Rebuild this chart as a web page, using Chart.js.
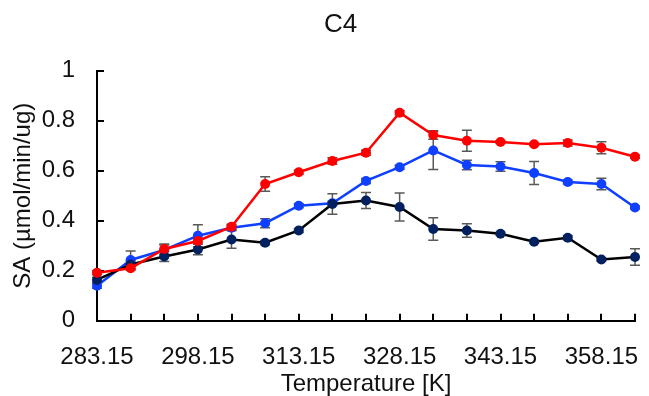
<!DOCTYPE html>
<html>
<head>
<meta charset="utf-8">
<script src="https://cdn.jsdelivr.net/npm/chart.js@4/dist/chart.umd.min.js"></script>
<style>
  html, body { margin: 0; padding: 0; background: #fff; }
</style>
</head>
<body>
<canvas id="c4Chart" width="649" height="396"></canvas>
<script>
const temperatures = ['283.15', '288.15', '293.15', '298.15', '303.15', '308.15', '313.15', '318.15', '323.15',
  '328.15', '333.15', '338.15', '343.15', '348.15', '353.15', '358.15', '363.15'];

const redValues = [0.192, 0.21, 0.287, 0.319, 0.376, 0.547, 0.594, 0.639, 0.672, 0.832, 0.743, 0.72, 0.715, 0.706, 0.711, 0.692, 0.656];
const redErrors = [0.008, 0.008, 0.02, 0.008, 0.01, 0.029, 0.008, 0.013, 0.01, 0.008, 0.017, 0.042, 0.005, 0.005, 0.012, 0.024, 0.006];

const blueValues = [0.14, 0.243, 0.283, 0.34, 0.372, 0.39, 0.46, 0.47, 0.559, 0.614, 0.681, 0.623, 0.617, 0.591, 0.555, 0.547, 0.453];
const blueErrors = [0.01, 0.036, 0.02, 0.044, 0.01, 0.018, 0.008, 0.008, 0.01, 0.008, 0.076, 0.019, 0.019, 0.046, 0.008, 0.023, 0.006];

const blackValues = [0.163, 0.225, 0.257, 0.285, 0.325, 0.312, 0.361, 0.467, 0.481, 0.455, 0.367, 0.361, 0.348, 0.316, 0.332, 0.245, 0.255];
const blackErrors = [0.01, 0.015, 0.02, 0.021, 0.035, 0.008, 0.008, 0.041, 0.032, 0.056, 0.045, 0.027, 0.006, 0.006, 0.008, 0.006, 0.033];

const FONT = '"Liberation Sans", Arial, sans-serif';

// error bars, drawn under the markers
const errorBars = {
  id: 'errorBars',
  beforeDatasetsDraw(chart) {
    const ctx = chart.ctx;
    const y = chart.scales.y;
    ctx.save();
    ctx.strokeStyle = '#595959';
    ctx.lineWidth = 1.5;
    chart.data.datasets.forEach((ds, i) => {
      const meta = chart.getDatasetMeta(i);
      meta.data.forEach((pt, j) => {
        const err = ds.errors[j];
        const top = y.getPixelForValue(ds.data[j] + err);
        const bot = y.getPixelForValue(ds.data[j] - err);
        ctx.beginPath();
        ctx.moveTo(pt.x, top); ctx.lineTo(pt.x, bot);
        ctx.moveTo(pt.x - 5, top); ctx.lineTo(pt.x + 5, top);
        ctx.moveTo(pt.x - 5, bot); ctx.lineTo(pt.x + 5, bot);
        ctx.stroke();
      });
    });
    ctx.restore();
  }
};

// tick marks pointing into the plot
const innerTicks = {
  id: 'innerTicks',
  beforeDatasetsDraw(chart) {
    const ctx = chart.ctx;
    const {x, y} = chart.scales;
    const area = chart.chartArea;
    ctx.save();
    ctx.strokeStyle = '#000';
    ctx.lineWidth = 2;
    ctx.beginPath();
    x.ticks.forEach((t, i) => {
      const px = Math.round(x.getPixelForTick(i));
      ctx.moveTo(px, area.bottom); ctx.lineTo(px, area.bottom - 7);
    });
    y.ticks.forEach((t, i) => {
      const py = Math.round(y.getPixelForTick(i));
      ctx.moveTo(area.left, py); ctx.lineTo(area.left + 7, py);
    });
    ctx.stroke();
    ctx.restore();
  }
};

function series(data, errors, lineColor, markerColor) {
  return {
    data: data,
    errors: errors,
    borderColor: lineColor,
    backgroundColor: markerColor,
    pointBackgroundColor: markerColor,
    pointBorderColor: markerColor,
    borderWidth: 2.5,
    pointRadius: 5,
    pointBorderWidth: 0,
    tension: 0
  };
}

new Chart(document.getElementById('c4Chart').getContext('2d'), {
  type: 'line',
  data: {
    labels: temperatures,
    datasets: [
      series(redValues, redErrors, '#FF0000', '#FF0000'),
      series(blackValues, blackErrors, '#000000', '#002060'),
      series(blueValues, blueErrors, '#0F3FFF', '#0F3FFF')
    ]
  },
  plugins: [errorBars, innerTicks],
  options: {
    responsive: false,
    animation: false,
    layout: { padding: { left: 37, right: 5, top: 0, bottom: 0 } },
    plugins: {
      legend: { display: false },
      tooltip: { enabled: false },
      title: {
        display: true,
        text: 'C4',
        color: '#111',
        font: { family: FONT, size: 26, weight: 'normal' },
        padding: { top: 9.4, bottom: 30.1 }
      }
    },
    scales: {
      x: {
        type: 'category',
        offset: false,
        grid: { display: false },
        border: { color: '#000', width: 2 },
        ticks: {
          autoSkip: false,
          maxRotation: 0,
          minRotation: 0,
          padding: 14,
          color: '#111',
          font: { family: FONT, size: 24 },
          callback: function (value, index) {
            return index % 3 === 0 ? this.getLabelForValue(value) : '';
          }
        },
        title: {
          display: true,
          text: 'Temperature [K]',
          color: '#111',
          font: { family: FONT, size: 24 },
          padding: { top: 0, bottom: -3 }
        },
        afterFit: s => { s.height = 75.3; }
      },
      y: {
        min: 0,
        max: 1,
        grid: { display: false, drawTicks: false },
        border: { color: '#000', width: 2 },
        ticks: {
          stepSize: 0.2,
          padding: 22,
          color: '#111',
          font: { family: FONT, size: 24 },
          callback: v => String(Number(v.toFixed(2)))
        },
        title: {
          display: true,
          text: 'SA (µmol/min/ug)',
          color: '#111',
          font: { family: FONT, size: 24 },
          padding: { top: -28.4, bottom: 0 }
        },
        afterFit: s => { s.width = 60; }
      }
    }
  }
});
</script>
</body>
</html>
